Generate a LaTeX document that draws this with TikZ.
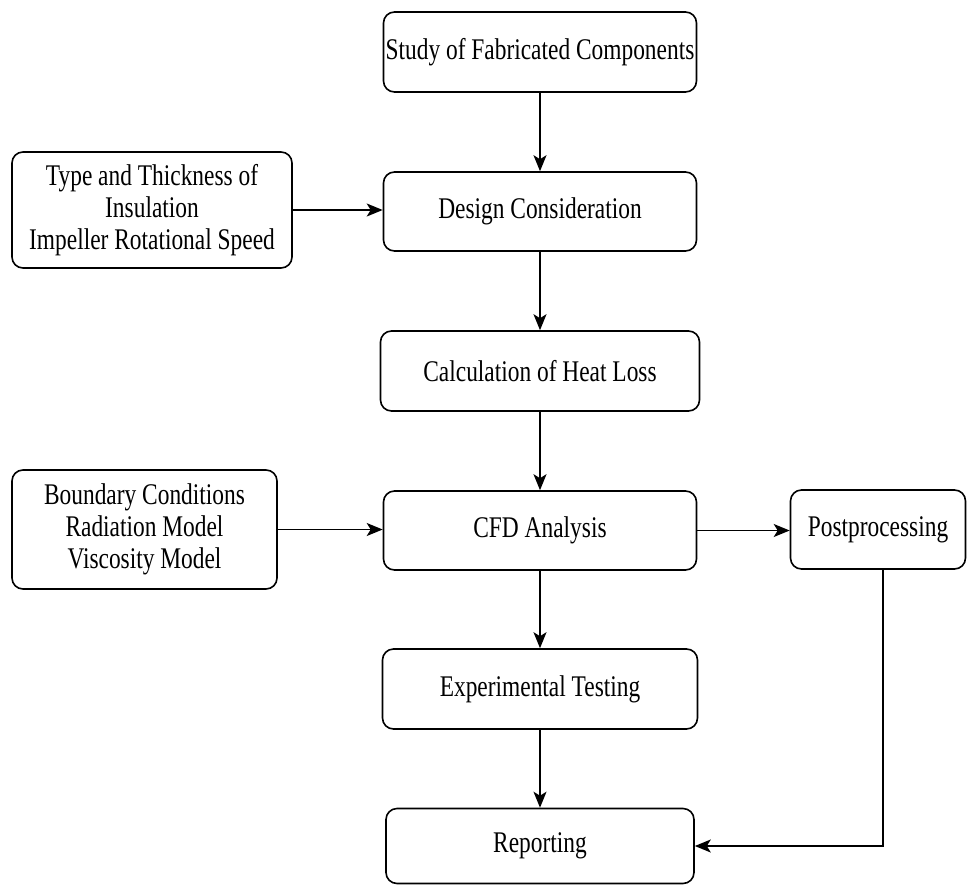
\documentclass[tikz,border=0pt]{standalone}
\usepackage{fontspec}
\setmainfont[FakeStretch=0.78]{Liberation Serif}
\usetikzlibrary{arrows.meta,calc}
\begin{document}
\begin{tikzpicture}[x=1pt,y=-1pt,
  box/.style={draw=black,line width=1.6pt,rounded corners=11pt,align=center,
    inner sep=0pt,font=\fontsize{30}{32}\selectfont},
  conn/.style={draw=black,line width=1.7pt,-{Stealth[length=16pt,width=13pt,inset=4pt]}}]
\useasboundingbox (0,0) rectangle (968,886);
\node[box,minimum width=313pt,minimum height=80pt] (study) at (540,52) {Study of Fabricated Components};
\node[box,minimum width=313pt,minimum height=79pt] (design) at (540,211.5) {Design Consideration};
\node[box,minimum width=280pt,minimum height=116pt] (insul) at (152,210) {Type and Thickness of\\Insulation\\Impeller Rotational Speed};
\node[box,minimum width=319pt,minimum height=80pt] (calc) at (540,371) {Calculation of Heat Loss};
\node[box,minimum width=265pt,minimum height=119pt] (bound) at (144.5,529.5) {Boundary Conditions\\Radiation Model\\Viscosity Model};
\node[box,minimum width=313pt,minimum height=79pt] (cfd) at (540,530.5) {CFD Analysis};
\node[box,minimum width=175pt,minimum height=79pt] (post) at (878,529.5) {Postprocessing};
\node[box,minimum width=315pt,minimum height=80pt] (exp) at (540,689) {Experimental Testing};
\node[box,minimum width=308pt,minimum height=75pt] (report) at (540,846) {Reporting};
\coordinate (pd) at (883,569);
\draw[conn] (study) -- (design);
\draw[conn] (design) -- (calc);
\draw[conn] (calc) -- (cfd);
\draw[conn] (cfd) -- (exp);
\draw[conn] (exp) -- (report);
\draw[conn] (insul.east) -- (insul.east -| design.west);
\draw[conn] (bound.east) -- (bound.east -| cfd.west);
\draw[conn] (cfd.east) -- (cfd.east -| post.west);
\draw[conn] (pd) |- (report.east);
\end{tikzpicture}
\end{document}
